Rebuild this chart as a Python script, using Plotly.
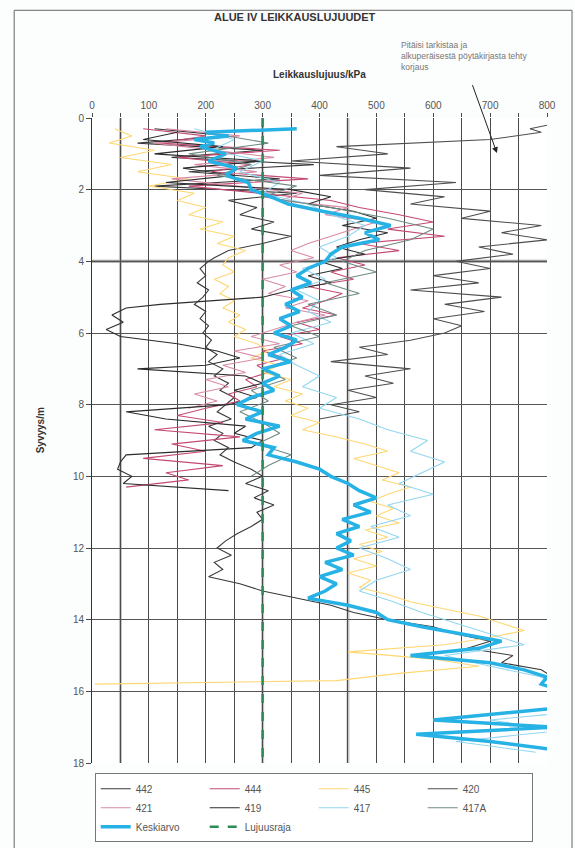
import plotly.graph_objects as go

# ---------------- data (kPa vs depth m) ----------------
d442 = [0.3,0.5,0.7,0.9,1.1,1.3,1.5,1.7,1.9,2.1,2.3,2.5,2.7,2.9,3.1,3.3,3.5,3.7,3.9,
        4.0,4.2,4.4,4.6,4.8,5.0,5.2,5.4,5.6,5.8,6.0,6.2,6.4,6.6,6.8,7.0,7.2,7.4,7.6,7.8,
        8.0,8.2,8.4,8.6,8.8,9.0,9.2,9.4,9.6,9.8,10.0,10.2,10.4,10.6,10.8,11.0,11.2,11.4,11.6,11.8,
        12.0,12.2,12.4,12.6,12.8,13.0,13.2,13.4,13.6,13.8,14.0,14.2,14.4,14.6,14.8,15.0,15.2,15.4,15.6]
v442 = [110,240,80,300,140,390,170,330,110,360,240,290,260,320,280,350,300,240,215,
        205,190,200,185,205,195,180,200,190,205,195,210,200,220,205,230,215,240,225,250,
        235,220,245,205,230,215,240,225,250,280,300,270,310,285,320,290,300,280,255,235,
        220,245,215,230,205,260,300,360,420,460,520,600,640,700,660,740,720,790,810]

d444 = [0.3,0.5,0.7,0.9,1.1,1.3,1.5,1.7,1.9,2.1,2.3,2.5,2.7,2.9,3.1,3.3,3.5,3.7,3.9,4.1,
        4.3,4.5,4.7,4.9,5.1,5.3,5.5,5.7,5.9,6.1,6.3,6.5,6.7,6.9,7.1,7.3,7.5,7.7,7.9,8.1,
        8.3,8.5,8.7,8.9,9.1,9.3,9.5,9.7,9.9,10.1,10.3]
v444 = [90,200,120,330,150,280,210,380,170,300,420,470,540,600,520,620,470,540,430,480,
        420,460,380,440,410,370,430,360,400,330,370,300,340,290,310,270,290,240,260,200,
        150,230,110,260,140,200,90,230,130,170,60]

d445 = [0.3,0.5,0.7,0.9,1.1,1.3,1.5,1.7,1.9,2.1,2.3,2.5,2.7,2.9,3.1,3.3,3.5,3.7,3.9,4.1,
        4.3,4.5,4.7,4.9,5.1,5.3,5.5,5.7,5.9,6.1,6.3,6.5,6.7,6.9,7.1,7.3,7.5,7.7,7.9,8.1,
        8.3,8.5,8.7,8.9,9.1,9.3,9.5,9.7,9.9,10.1,10.3,10.5,10.7,10.9,11.1,11.3,11.5,11.7,11.9,12.1,
        12.3,12.5,12.7,12.9,13.1,13.3,13.5,13.7,13.9,14.1,14.3,14.5,14.7,14.9,15.1,15.3,15.5,15.7,15.8]
v445 = [40,70,30,110,50,140,80,170,100,180,150,200,170,230,190,250,220,270,240,230,
        250,215,240,225,250,230,260,240,270,250,290,310,280,330,300,350,320,370,340,380,
        350,400,370,430,480,520,460,500,540,510,560,520,490,530,500,540,480,520,470,510,
        460,500,450,490,470,520,560,620,680,720,760,700,620,450,600,680,540,430,5]

d420 = [0.2,0.3,0.4,0.6,0.8,1.0,1.2,1.4,1.6,1.8,2.0,2.2,2.4,2.6,2.8,3.0,3.2,3.4,3.6,3.8,
        4.0,4.2,4.4,4.6,4.8,5.0,5.2,5.4,5.6,5.8,6.0,6.2,6.4,6.6,6.8,7.0,7.2,7.4,7.6,7.8,
        8.0,8.2,8.4]
v420 = [800,770,790,700,430,520,350,560,400,640,480,620,560,700,650,790,720,800,680,740,
        640,700,600,680,560,720,620,690,600,650,620,560,470,520,420,560,480,530,450,500,
        420,470,400]

d421 = [0.3,0.5,0.7,0.9,1.1,1.3,1.5,1.7,1.9,2.1,2.3,2.5,2.7,2.9,3.1,3.3,3.5,3.7,3.9,4.1,
        4.3,4.5,4.7,4.9,5.1,5.3,5.5,5.7,5.9,6.1,6.3,6.5,6.7,6.9,7.1,7.3,7.5,7.7,7.9,8.1]
v421 = [130,260,110,220,320,180,290,140,260,370,330,450,410,500,460,420,380,350,390,330,
        360,300,340,310,380,340,410,360,320,280,330,250,300,230,270,200,240,180,220,170]

d419 = [0.4,0.6,0.8,1.0,1.2,1.4,1.6,1.8,2.0,2.2,2.4,2.6,2.8,3.0,3.2,3.4,3.6,3.8,4.0,4.2,
        4.4,4.6,4.8,5.0,5.2,5.3,5.5,5.7,5.9,6.1,6.3,6.5,6.7,6.9,
        7.0,7.2,7.4,7.6,7.8,8.0,8.2,8.4,8.6,8.8,9.0,9.2,9.4,9.6,9.8,10.0,10.2,10.4]
v419 = [150,90,230,110,300,160,250,130,350,420,380,460,500,440,520,470,430,480,400,440,
        380,420,350,300,120,60,35,55,25,50,150,220,260,200,
        80,270,300,250,290,240,60,130,270,250,300,280,60,50,45,70,55,240]

d417 = [0.3,0.6,0.9,1.2,1.5,1.8,2.1,2.4,2.7,3.0,3.3,3.6,3.9,4.2,4.5,4.8,5.1,5.4,5.7,6.0,
        6.3,6.6,6.9,7.2,7.5,7.8,8.1,8.4,8.7,9.0,9.3,9.6,9.9,10.2,10.5,10.8,11.1,11.4,11.7,12.0,
        12.3,12.6,12.9,13.2,13.5,13.8,14.1,14.4,14.7,15.0,15.3,15.6,15.9,16.2,16.5,16.8,17.1,17.4,17.7]
v417 = [180,250,210,300,260,330,300,380,420,480,450,400,430,370,410,360,400,380,420,350,
        390,330,360,400,370,430,400,470,520,590,560,620,580,540,600,520,560,490,540,470,
        520,560,500,470,530,580,640,700,760,620,700,790,820,880,900,700,820,640,780]

d417A = [0.4,0.7,1.0,1.3,1.6,1.9,2.2,2.5,2.8,3.1,3.4,3.7,4.0,4.3,4.6,4.9,5.2,5.5,5.8,6.1,
         6.4,6.7,7.0,7.3,7.6,7.9,8.2,8.5,8.8,9.1,9.4,9.7,10.0]
v417A = [200,310,170,280,220,360,300,420,520,600,560,480,440,500,410,470,380,430,350,400,
         320,360,300,340,280,310,260,300,330,290,350,310,280]

d_mean = [0.3,0.4,0.5,0.6,0.7,0.8,
          1.0,1.2,1.4,1.6,1.8,2.0,2.2,2.4,2.6,2.8,3.0,3.2,3.4,3.6,3.8,4.0,4.2,4.4,4.6,4.8,
          5.0,5.2,5.4,5.6,5.8,6.0,6.2,6.4,6.6,6.8,7.0,7.2,7.4,7.6,7.8,8.0,8.2,8.4,8.6,8.8,
          9.0,9.2,9.4,9.6,9.8,10.0,10.2,10.4,10.6,10.8,11.0,11.2,11.4,11.6,11.8,12.0,12.2,12.4,12.6,12.8,
          13.0,13.2,13.4,13.6,13.8,14.0,14.2,14.4,14.6,14.8,15.0,15.2,15.4,15.6,15.8,
          16.0,16.4,16.8,17.0,17.2,17.4,17.6,17.8]
v_mean = [360,200,240,180,215,190,
          235,205,255,235,275,280,315,345,405,470,525,480,505,440,420,410,380,360,385,350,
          370,340,365,330,350,320,360,340,310,350,300,330,300,320,280,255,300,270,330,290,
          265,320,310,360,400,420,450,470,500,460,490,440,470,430,455,430,460,410,440,400,
          430,410,380,450,500,520,580,650,720,680,560,700,760,800,790,
          830,860,600,810,570,700,800,850]

lujuusraja = 300
depth_ticks = [0, 2, 4, 6, 8, 10, 12, 14, 16, 18]
x_ticks = [0, 50, 100, 150, 200, 250, 300, 350, 400, 450, 500, 550, 600, 650, 700, 750, 800]
x_labels = ["0", "", "100", "", "200", "", "300", "", "400", "", "500", "", "600", "", "700", "", "800"]
light_grid_x = [50, 300, 450]
heavy_grid_y = [4]

series = [
    ("442", d442, v442, "#3a3a3a"),
    ("444", d444, v444, "#c44a74"),
    ("445", d445, v445, "#ffd772"),
    ("420", d420, v420, "#4e4e4e"),
    ("421", d421, v421, "#d98aa6"),
    ("419", d419, v419, "#2c2c2c"),
    ("417", d417, v417, "#93d6f0"),
    ("417A", d417A, v417A, "#6f8a84"),
]
for name, d, v, c in series:
    assert len(d) == len(v), name
assert len(d_mean) == len(v_mean)

fig = go.Figure()
for name, d, v, c in series:
    fig.add_trace(go.Scatter(x=v, y=d, mode="lines", name=name,
                             line=dict(color=c, width=1.1)))
fig.add_trace(go.Scatter(x=v_mean, y=d_mean, mode="lines", name="Keskiarvo",
                         line=dict(color="#27b2e6", width=3.5)))
fig.add_trace(go.Scatter(x=[lujuusraja, lujuusraja], y=[depth_ticks[0], depth_ticks[-1]],
                         mode="lines", name="Lujuusraja",
                         line=dict(color="#2e8b57", width=2.5, dash="dash")))

shapes = []
for gx in light_grid_x:
    shapes.append(dict(type="line", xref="x", yref="paper", x0=gx, x1=gx, y0=0, y1=1,
                       line=dict(color="#c4c4c4", width=3), layer="between"))
for gy in heavy_grid_y:
    shapes.append(dict(type="line", xref="paper", yref="y", x0=0, x1=1, y0=gy, y1=gy,
                       line=dict(color="#9c9c9c", width=3), layer="between"))
# outer frame
shapes.append(dict(type="rect", xref="paper", yref="paper", x0=-0.171, x1=1.055,
                   y0=-0.14, y1=1.167, line=dict(color="#666666", width=1)))

font_fam = "Liberation Sans Narrow, Arial, Liberation Sans, sans-serif"

fig.update_layout(
    width=575, height=848,
    margin=dict(l=92, r=28, t=118, b=85, autoexpand=False),
    paper_bgcolor="#fcfdfd", plot_bgcolor="white",
    font=dict(family=font_fam, size=10, color="#444444"),
    showlegend=True,
    legend=dict(orientation="h", x=0.006, y=-0.016, xanchor="left", yanchor="top",
                entrywidth=64, entrywidthmode="pixels",
                bordercolor="#777777", borderwidth=1, bgcolor="white",
                font=dict(size=10, color="#555555"), tracegroupgap=2),
    shapes=shapes,
    annotations=[
        dict(text="<b>ALUE IV LEIKKAUSLUJUUDET</b>", xref="paper", yref="paper",
             x=0.446, y=1.157, yanchor="middle", showarrow=False,
             font=dict(size=11, color="#333333")),
        dict(text="<b>Leikkauslujuus/kPa</b>", xref="paper", yref="paper",
             x=0.5, y=1.068, yanchor="middle", showarrow=False,
             font=dict(size=10, color="#333333")),
        dict(text="<b>Syvyys/m</b>", xref="paper", yref="paper", textangle=-90,
             x=-0.114, y=0.516, xanchor="center", yanchor="middle", showarrow=False,
             font=dict(size=10, color="#333333")),
        dict(text="Pitäisi tarkistaa ja<br>alkuperäisestä pöytäkirjasta tehty<br>korjaus",
             xref="paper", yref="paper", x=0.675, y=1.096, xanchor="left", yanchor="middle",
             align="left", showarrow=False, font=dict(size=8.5, color="#777777")),
        dict(text=" ", xref="x", yref="y", x=712, y=0.98, ax=-27, ay=-75,
             showarrow=True, arrowhead=2, arrowsize=1.2, arrowwidth=1, arrowcolor="#222222"),
    ],
)
fig.update_xaxes(side="top", range=[0, 800], tickvals=x_ticks, ticktext=x_labels,
                 showgrid=True, gridcolor="#4a4a4a", gridwidth=1, zeroline=False,
                 ticks="outside", ticklen=4, tickcolor="#4a4a4a",
                 tickfont=dict(size=10, color="#555555"), showline=False)
fig.update_yaxes(range=[18, 0], tickvals=depth_ticks,
                 showgrid=True, gridcolor="#555555", gridwidth=1, zeroline=False,
                 ticks="outside", ticklen=5, tickcolor="#4a4a4a",
                 tickfont=dict(size=10, color="#555555"),
                 showline=True, linecolor="#333333", linewidth=1)

fig.write_html("out.html")
